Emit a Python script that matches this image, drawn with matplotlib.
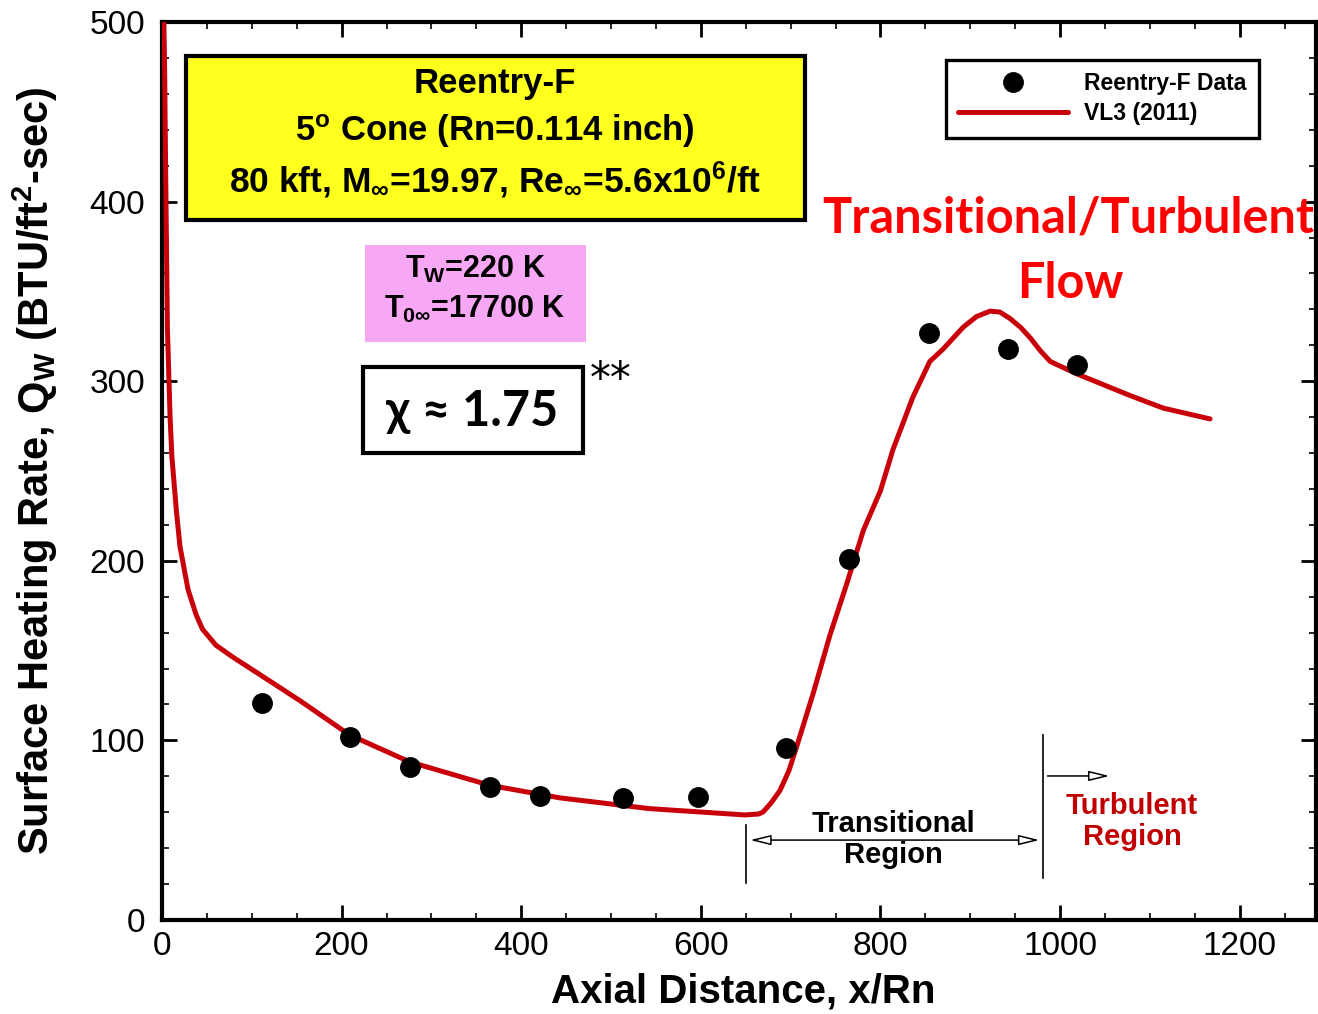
import matplotlib
matplotlib.use("Agg")
import matplotlib.pyplot as plt
from matplotlib.patches import Rectangle

# ---------------- data ----------------
data_x = [111, 209, 276, 365, 421, 513, 597, 695, 765, 854, 942, 1019]
data_y = [121, 102, 85, 74, 69, 68, 68.5, 96, 201, 327, 318, 309]

vl3_x = [1.5, 3, 4, 6, 9, 11, 16, 20, 29, 38, 45, 60, 80, 111, 154, 209, 276, 365,
         443, 543, 649, 664, 669, 678, 688, 698, 707, 725, 744, 763, 781, 800, 814,
         836, 855, 870, 892, 907, 922, 933, 944, 956, 967, 978, 989, 1019, 1078,
         1115, 1167]
vl3_y = [520, 470, 420, 330, 280, 258, 228, 208, 184, 170, 162, 153, 146, 136, 122,
         103, 88, 75, 68, 62, 58.5, 59, 60, 65, 72, 83, 97, 126, 159, 188, 217, 239,
         262, 291, 311, 318, 330, 336, 339, 338.5, 335, 330, 324, 317, 311, 304, 292,
         285, 279]

x_ticks = [0, 200, 400, 600, 800, 1000, 1200]
y_ticks = [0, 100, 200, 300, 400, 500]

trans_start, trans_end = 650, 981

# ---------------- style ----------------
plt.rcParams['mathtext.fontset'] = 'custom'
plt.rcParams['mathtext.rm'] = 'Liberation Sans:bold'
plt.rcParams['mathtext.it'] = 'Liberation Sans:bold'
plt.rcParams['mathtext.bf'] = 'Liberation Sans:bold'

W, H = 1318, 1014
fig = plt.figure(figsize=(W / 100, H / 100), dpi=100)
L, R, T, B = 162, 1316, 22, 920
ax = fig.add_axes([L / W, 1 - B / H, (R - L) / W, (B - T) / H])

RED = '#c8000a'
ax.plot(vl3_x, vl3_y, color=RED, lw=3.6, solid_capstyle='round',
        solid_joinstyle='round', zorder=3, label='VL3 (2011)')
ax.plot(data_x, data_y, 'o', color='black', ms=14, ls='none', zorder=4,
        label='Reentry-F Data')

ax.set_xlim(0, 1285)
ax.set_ylim(0, 500)
ax.set_xticks(x_ticks)
ax.set_yticks(y_ticks)
ax.set_xticks(range(0, 1300, 50), minor=True)
ax.set_yticks(range(0, 501, 20), minor=True)
for s in ax.spines.values():
    s.set_linewidth(3)
ax.tick_params(which='both', direction='in', top=True, right=True)
ax.tick_params(which='major', length=11, width=2, labelsize=21)
ax.tick_params(which='minor', length=5, width=1.2)
ax.tick_params(axis='y', pad=12)
ax.tick_params(axis='x', pad=8)
for lab in ax.get_xticklabels() + ax.get_yticklabels():
    lab.set_family('Liberation Sans')
    lab.set_fontsize(24)

ax.set_xlabel('Axial Distance, x/Rn', fontsize=29, fontweight='bold',
              family='Liberation Sans')
ax.set_ylabel('Surface Heating Rate, Q$_W$ (BTU/ft$^2$-sec)', fontsize=30,
              fontweight='bold', family='Liberation Sans')
ax.xaxis.set_label_coords(0.5035, -0.058)
ax.yaxis.set_label_coords(-0.088, 0.50)

# legend
h, l = ax.get_legend_handles_labels()
leg = ax.legend(h[::-1], l[::-1], loc='upper left', bbox_to_anchor=(0.679, 0.958),
                borderaxespad=0,
                prop=dict(family='Liberation Sans', weight='bold', size=16.5),
                handlelength=4.8, handletextpad=0.7, labelspacing=0.3,
                borderpad=0.55, fancybox=False, framealpha=1, edgecolor='black')
leg.get_frame().set_linewidth(2.4)


def px(xp, yp):
    return ((xp - L) / (R - L), (B - yp) / (B - T))


# yellow info box
x0, y0 = px(186, 220)
x1, y1 = px(805, 56)
ax.add_patch(Rectangle((x0, y0), x1 - x0, y1 - y0, transform=ax.transAxes,
                       facecolor='#ffff1e', edgecolor='black', lw=3, zorder=5))
bold = dict(family='Liberation Sans', fontweight='bold', ha='center', va='center',
            transform=ax.transAxes, zorder=6)
ax.text(*px(495, 84), 'Reentry-F', fontsize=25, **bold)
ax.text(*px(495, 131), '5$^{\\mathrm{o}}$ Cone (Rn=0.114 inch)', fontsize=25, **bold)
ax.text(*px(495, 180), '80 kft, M$_\\infty$=19.97, Re$_\\infty$=5.6x10$^6$/ft',
        fontsize=25.5, **bold)

# pink box
x0, y0 = px(365, 342)
x1, y1 = px(586, 245)
ax.add_patch(Rectangle((x0, y0), x1 - x0, y1 - y0, transform=ax.transAxes,
                       facecolor='#f7a8f5', edgecolor='none', zorder=5))
ax.text(*px(475, 269), 'T$_W$=220 K', fontsize=22, **bold)
ax.text(*px(475, 309), 'T$_{0\\infty}$=17700 K', fontsize=22, **bold)

# chi box
x0, y0 = px(363, 453)
x1, y1 = px(583, 367)
ax.add_patch(Rectangle((x0, y0), x1 - x0, y1 - y0, transform=ax.transAxes,
                       facecolor='white', edgecolor='black', lw=3, zorder=5))
ax.text(*px(472, 412), '\u03c7 \u2248 1.75', fontsize=35, fontweight='bold',
        family=['Lato', 'DejaVu Serif'], ha='center', va='center',
        transform=ax.transAxes, zorder=6)
ax.text(*px(611, 380), '**', fontsize=30, family='DejaVu Sans', ha='center',
        va='center', transform=ax.transAxes, zorder=6)

# red flow label
ax.text(*px(1068, 218), 'Transitional/Turbulent', fontsize=35, fontweight='bold',
        family='Lato', color='#ff0000', ha='center', va='center',
        transform=ax.transAxes, zorder=6)
ax.text(*px(1070, 284), 'Flow', fontsize=35, fontweight='bold', family='Lato',
        color='#ff0000', ha='center', va='center', transform=ax.transAxes, zorder=6)

# transitional / turbulent region markers
ax.plot([trans_start, trans_start], [20.6, 52.9], color='black', lw=1.2)
ax.plot([trans_end, trans_end], [23.4, 103], color='black', lw=1.2)
astyle = dict(arrowstyle='<|-|>,head_length=0.9,head_width=0.22', fc='white',
              ec='black', lw=1.1, mutation_scale=14, shrinkA=0, shrinkB=0)
ax.annotate('', xy=(trans_end - 4, 44.5), xytext=(trans_start + 5, 44.5),
            arrowprops=astyle)
ax.annotate('', xy=(1055, 80.2), xytext=(trans_end + 5, 80.2),
            arrowprops=dict(astyle, arrowstyle='-|>,head_length=0.9,head_width=0.22'))
ax.text(814, 53.5, 'Transitional', fontsize=21, fontweight='bold',
        family='Liberation Sans', ha='center', va='center')
ax.text(814, 36.2, 'Region', fontsize=21, fontweight='bold',
        family='Liberation Sans', ha='center', va='center')
ax.text(1080, 63.5, 'Turbulent', fontsize=21, fontweight='bold',
        family='Liberation Sans', color='#c00000', ha='center', va='center')
ax.text(1080, 46.2, 'Region', fontsize=21, fontweight='bold',
        family='Liberation Sans', color='#c00000', ha='center', va='center')

fig.savefig('out.png', dpi=100)
